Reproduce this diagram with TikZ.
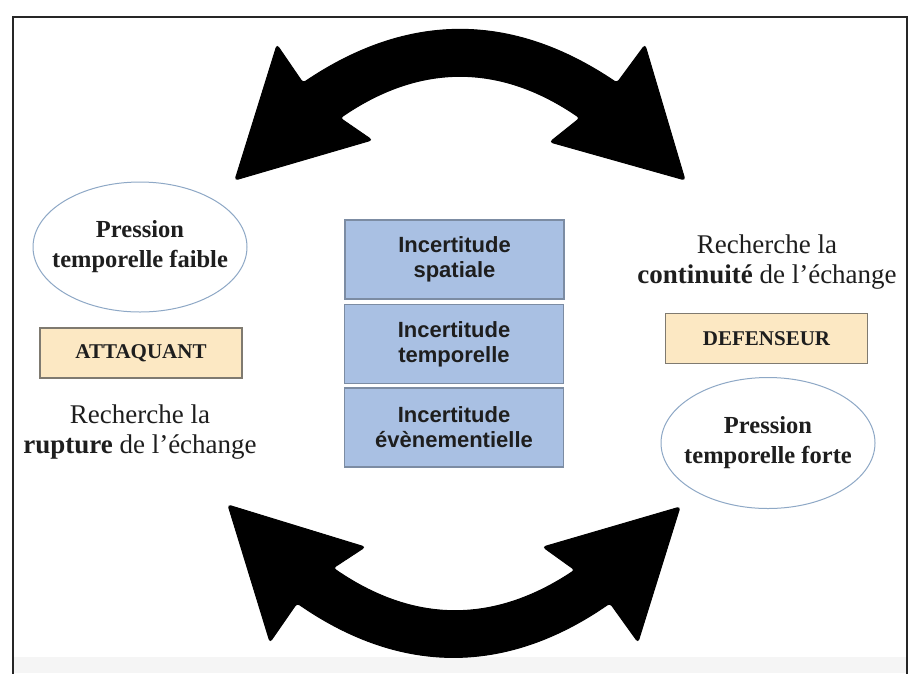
\documentclass[tikz,border=0pt]{standalone}
\usepackage{fontspec}
\setmainfont{Liberation Serif}
\setsansfont{Liberation Sans}
\definecolor{txt}{HTML}{1E1E1E}
\definecolor{boxblue}{HTML}{A9C0E3}
\definecolor{boxblueedge}{HTML}{7C8CA3}
\definecolor{beige}{HTML}{FCE8C3}
\definecolor{beigeedge}{HTML}{7F7A70}
\definecolor{elledge}{HTML}{8EA8C6}
\tikzset{
  incbox/.style={draw=boxblueedge, line width=1.2pt, fill=boxblue, minimum width=219pt, minimum height=79pt, inner sep=0pt, align=center, text=txt, font=\sffamily\bfseries\fontsize{22}{25}\selectfont},
  rolebox/.style={draw=beigeedge, line width=1.2pt, fill=beige, minimum width=202pt, minimum height=50pt, inner sep=0pt, text=txt, font=\bfseries\fontsize{21}{24}\selectfont},
  presstext/.style={inner sep=0pt, align=center, text=txt, font=\bfseries\fontsize{24.5}{30}\selectfont},
  pressring/.style={draw=elledge, line width=1pt},
  goaltext/.style={align=center, inner sep=0pt, text=txt, font=\fontsize{27}{30.5}\selectfont},
  bigarrow/.style={fill=black, draw=black, line width=1pt, rounded corners=3pt}
}
\begin{document}
\begin{tikzpicture}[x=1pt,y=-1pt]
\useasboundingbox (0,0) rectangle (912,673);
\fill[white] (0,0) rectangle (912,673);
\fill[black!4] (13,657) rectangle (907,673);
% frame
\draw[line width=2.2pt, black!85] (13,680) -- (13,17) -- (907,17) -- (907,680);

% central boxes
\node[incbox] (spat) at (454.5,259.5) {Incertitude\\spatiale};
\node[incbox] (temp) at (454,344) {Incertitude\\temporelle};
\node[incbox] (even) at (454,427.5) {Incertitude\\évènementielle};

% left side
\node[presstext] (faible) at (140,247) {Pression\\temporelle faible};
\draw[pressring] (faible.center) ellipse [x radius=107, y radius=65];
\node[rolebox] (att) at (141,353) {ATTAQUANT};
\node[goaltext] (rupt) at (140,432) {Recherche la\\\textbf{rupture} de l’échange};

% right side
\node[goaltext] (cont) at (767,262) {Recherche la\\\textbf{continuité} de l’échange};
\node[rolebox] (def) at (766.5,338.5) {DEFENSEUR};
\node[presstext] (forte) at (768,443) {Pression\\temporelle forte};
\draw[pressring] (forte.center) ellipse [x radius=107, y radius=65.5];

% top double arrow
\path[bigarrow] (235,180) -- (277,45) -- (303,83)
  .. controls (408,12) and (512,12) .. (617,83)
  -- (645,45) -- (685,180) -- (550,142) -- (580,118)
  .. controls (500,63) and (420,63) .. (340,118)
  -- (372,140) -- cycle;

% bottom double arrow
\path[bigarrow] (228,505) -- (365,547) -- (333,568)
  .. controls (414,624) and (494,624) .. (575,570)
  -- (543,547) -- (680,507) -- (638,642) -- (610,603)
  .. controls (506,675) and (401,675) .. (297,603)
  -- (270,642) -- cycle;
\end{tikzpicture}
\end{document}
